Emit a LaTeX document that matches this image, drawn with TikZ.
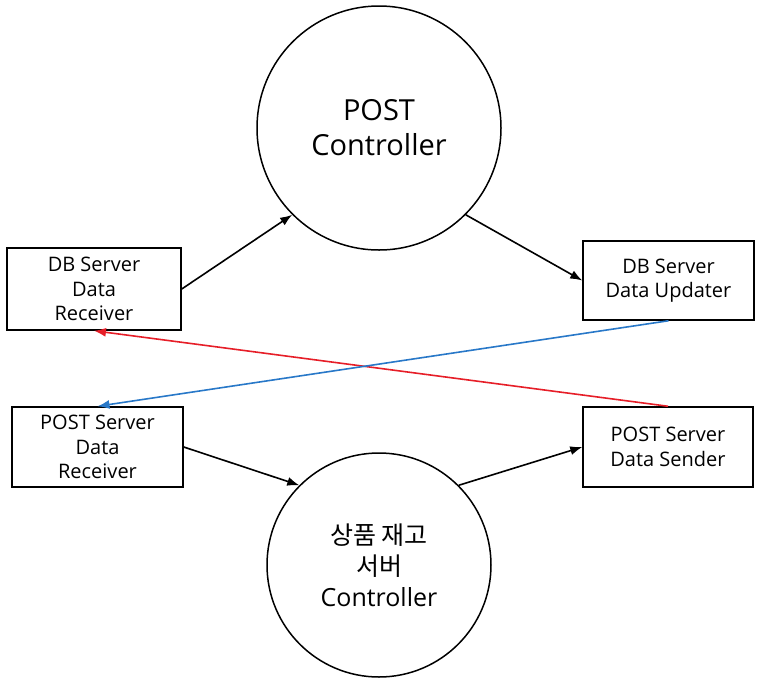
\documentclass[tikz,border=0pt]{standalone}
\usepackage{fontspec}
\setmainfont{Open Sans}
\newfontfamily\korfont{Noto Sans CJK KR}
\usetikzlibrary{arrows.meta}

\definecolor{sendred}{RGB}{230,30,40}
\definecolor{updblue}{RGB}{40,120,200}

\tikzset{
    databox/.style={draw, line width=1.5pt, rectangle, align=center, inner sep=0pt,
        font=\fontsize{20}{24.5}\selectfont},
    ctrl/.style={draw, line width=1.5pt, circle, inner sep=0pt, align=center},
    flow/.style={line width=1.6pt, -{Latex[length=12pt,width=9pt]}}
}

\begin{document}
\begin{tikzpicture}[x=1pt,y=-1pt]
        \useasboundingbox (0,0) rectangle (761,681);

        \node[ctrl, minimum size=244pt, font=\fontsize{29}{35}\selectfont] (postctrl) at (379,128) {POST\\Controller};
        \node[ctrl, minimum size=224pt, font=\fontsize{25}{31}\selectfont] (stockctrl) at (379,565) {{\korfont 상품 재고}\\{\korfont 서버}\\Controller};

        \node[databox, minimum width=174pt, minimum height=82pt] (dbrecv) at (94,289) {DB Server\\Data\\Receiver};
        \node[databox, minimum width=171pt, minimum height=79pt] (dbupd) at (668.5,280.5) {DB Server\\Data Updater};
        \node[databox, minimum width=171pt, minimum height=80pt] (postrecv) at (97.5,447) {POST Server\\Data\\Receiver};
        \node[databox, minimum width=170pt, minimum height=80pt] (postsend) at (668,447) {POST Server\\Data Sender};

        \draw[flow] (dbrecv.east) -- (postctrl.225);
        \draw[flow] (postctrl.315) -- (dbupd.west);
        \draw[flow] (postrecv.east) -- (stockctrl.135);
        \draw[flow] (stockctrl.45) -- (postsend.west);

        \draw[flow, sendred] (postsend.north) -- (dbrecv.south);
        \draw[flow, updblue] (dbupd.south) -- (postrecv.north);

    \end{tikzpicture}
\end{document}
